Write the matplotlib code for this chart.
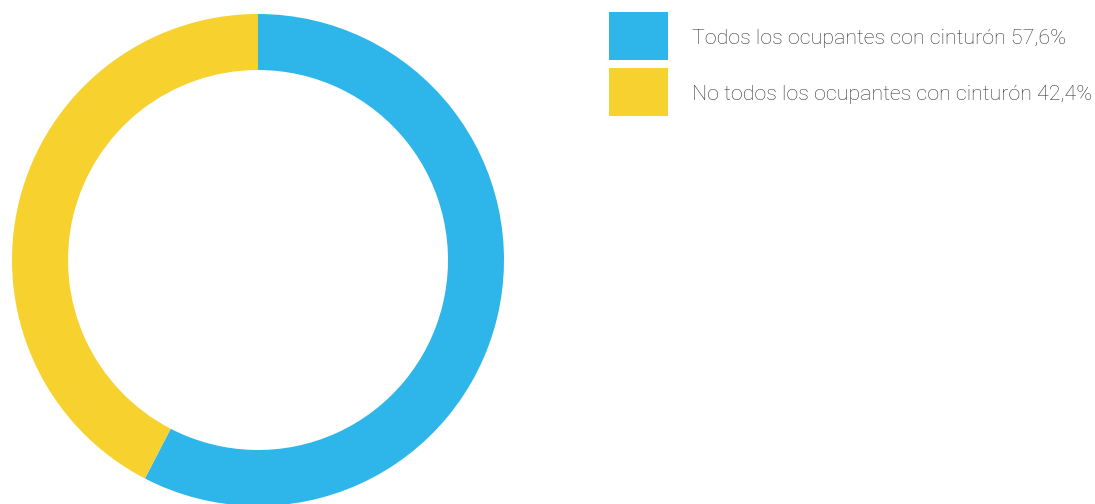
import matplotlib
matplotlib.use("Agg")
import matplotlib.pyplot as plt
from matplotlib.patches import Rectangle

# data
labels = ["Todos los ocupantes con cinturón 57,6%", "No todos los ocupantes con cinturón 42,4%"]
values = [57.6, 42.4]
colors = ["#2EB5E9", "#F7D12D"]

W, H = 1095, 504
fig = plt.figure(figsize=(W / 100, H / 100), dpi=100)

# donut: center (258, 260) px, outer radius 246 px, ring width 56 px
cx, cy, r = 258, 260, 246
ax = fig.add_axes([(cx - r) / W, (H - cy - r) / H, 2 * r / W, 2 * r / H])
ax.pie(values, colors=colors, startangle=90, counterclock=False, radius=1,
       wedgeprops=dict(width=56 / r, linewidth=0))
ax.set_xlim(-1, 1)
ax.set_ylim(-1, 1)
ax.set_aspect("equal")
ax.axis("off")
for p in ax.patches:
    p.set_clip_on(False)

# legend drawn by hand
for i, (lab, col) in enumerate(zip(labels, colors)):
    top = 12 + i * 56
    fig.patches.append(Rectangle((609 / W, 1 - (top + 48) / H), 59 / W, 48 / H,
                                 transform=fig.transFigure, color=col, linewidth=0))
    fig.text(692 / W, 1 - (top + 27) / H, lab, fontsize=15.4, family="Roboto",
             fontweight="light", color="#333333", va="center", ha="left")

fig.savefig("out.png", dpi=100)
